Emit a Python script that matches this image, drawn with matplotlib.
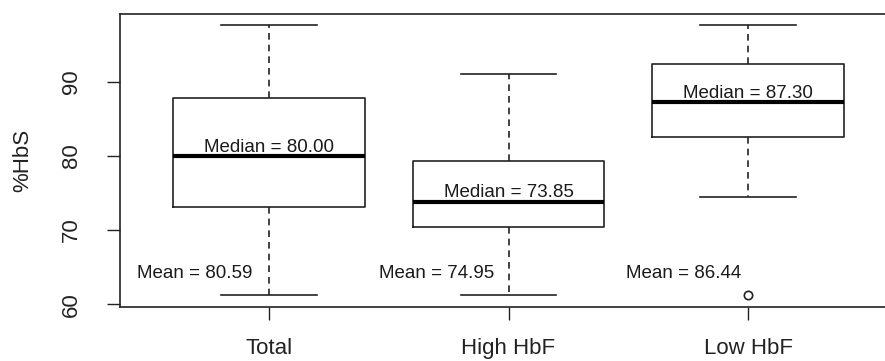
import matplotlib.pyplot as plt

plt.rcParams['font.family'] = ['Liberation Sans', 'DejaVu Sans']

# summary statistics of %HbS per group
groups = ['Total', 'High HbF', 'Low HbF']
whisker_low = [61.25, 61.25, 74.5]
q1 = [73.15, 70.45, 82.6]
medians = [80.00, 73.85, 87.30]
q3 = [87.75, 79.25, 92.35]
whisker_high = [97.6, 91.0, 97.6]
outliers = [[], [], [61.25]]
means = [80.59, 74.95, 86.44]

stats = []
for i, name in enumerate(groups):
    stats.append({
        'label': name,
        'whislo': whisker_low[i],
        'q1': q1[i],
        'med': medians[i],
        'q3': q3[i],
        'whishi': whisker_high[i],
        'fliers': outliers[i],
    })

fig = plt.figure(figsize=(8.85, 3.61), dpi=100)
ax = fig.add_axes([120 / 885, 54.3 / 361, 777 / 885, 292.7 / 361])

pos = [1, 2, 3]
ax.bxp(stats, positions=pos, widths=0.8, showfliers=True,
       boxprops=dict(color='#222222', linewidth=1.2),
       medianprops=dict(color='black', linewidth=3),
       whiskerprops=dict(color='#222222', linewidth=1.2, linestyle=(0, (4, 3))),
       capprops=dict(color='#222222', linewidth=1.2),
       capwidths=0.4,
       flierprops=dict(marker='o', markersize=6, markerfacecolor='none',
                       markeredgecolor='#222222', markeredgewidth=1.2))

# mean labels sit to the lower left of each box
mean_x = [0.69, 1.70, 2.73]
for i in range(3):
    ax.annotate('Median = %.2f' % medians[i], (pos[i], medians[i]),
                xytext=(0, 3), textcoords='offset points',
                ha='center', va='baseline', fontsize=13.5, color='#1a1a1a')
    ax.text(mean_x[i], 64.2, 'Mean = %.2f' % means[i],
            ha='center', va='center', fontsize=13.5, color='#1a1a1a')

ax.set_xlim(0.38, 3.62)
ax.set_ylim(59.68, 99.12)
ax.set_yticks([60, 70, 80, 90])
ax.set_yticklabels(['60', '70', '80', '90'], rotation=90, va='center')
ax.set_xticks(pos)
ax.set_xticklabels(groups)
ax.tick_params(axis='both', length=9.5, width=1, color='#222222', labelsize=16,
               labelcolor='#222222')
ax.tick_params(axis='y', pad=18)
ax.tick_params(axis='x', pad=13)
ax.set_ylabel('%HbS', fontsize=16, color='#222222', labelpad=20)
for s in ax.spines.values():
    s.set_color('#222222')
    s.set_linewidth(1.2)

fig.savefig('out.png', dpi=100)
